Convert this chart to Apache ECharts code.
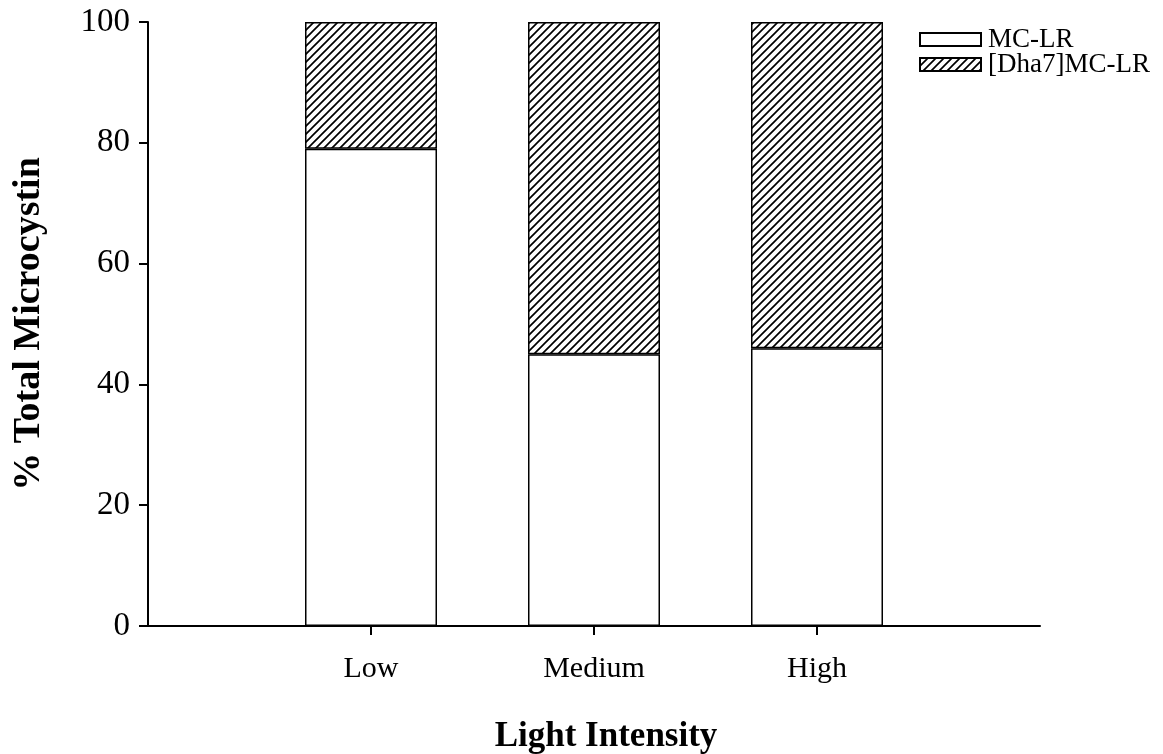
<!DOCTYPE html>
<html>
<head>
<meta charset="utf-8">
<script src="https://cdn.jsdelivr.net/npm/echarts@6/dist/echarts.min.js"></script>
<style>html,body{margin:0;padding:0;background:#fff}#c{width:1163px;height:754px}</style>
</head>
<body>
<div id="c"></div>
<script>
var categories = ['Low', 'Medium', 'High'];
var mcLR = [79, 45, 46];
var dha7 = [21, 55, 54];
var yTicks = [0, 20, 40, 60, 80, 100];
var seriesNames = ['MC-LR', '[Dha7]MC-LR'];

function hatch() {
  var s = 8;
  var c = document.createElement('canvas');
  c.width = s; c.height = s;
  var g = c.getContext('2d');
  g.fillStyle = '#fff'; g.fillRect(0, 0, s, s);
  g.strokeStyle = '#000'; g.lineWidth = 1.7;
  g.beginPath();
  g.moveTo(-1, s + 1); g.lineTo(s + 1, -1);
  g.moveTo(-1, 1); g.lineTo(1, -1);
  g.moveTo(s - 1, s + 1); g.lineTo(s + 1, s - 1);
  g.stroke();
  return c;
}

var xData = [''].concat(categories).concat(['']);
var pad = function (arr) { return ['-'].concat(arr).concat(['-']); };

var chart = echarts.init(document.getElementById('c'));
var font = '"Liberation Serif", "Times New Roman", serif';
function legendAt(top, name) {
  return {
    left: 914, top: top, orient: 'vertical', itemWidth: 61, itemHeight: 13,
    icon: 'rect', selectedMode: false,
    textStyle: { fontFamily: font, fontSize: 27, color: '#000', padding: [0, 0, 0, 2] },
    data: [name]
  };
}
chart.setOption({
  animation: false,
  backgroundColor: '#fff',
  grid: { left: 148, right: 123, top: 22, bottom: 128, outerBoundsMode: 'none', containLabel: false },
  legend: [legendAt(21, seriesNames[0]), legendAt(46, seriesNames[1])],
  xAxis: {
    type: 'category', data: xData, boundaryGap: false,
    name: 'Light Intensity', nameLocation: 'middle', nameGap: 93,
    nameTextStyle: { fontFamily: font, fontSize: 35, fontWeight: 'bold', color: '#000', padding: [0, 0, 0, 24] },
    axisLine: { lineStyle: { color: '#000', width: 2 } },
    axisTick: { length: 9, lineStyle: { color: '#000', width: 2 }, interval: function (i) { return i >= 1 && i <= 3; } },
    axisLabel: { fontFamily: font, fontSize: 30, color: '#000', margin: 28, interval: 0 }
  },
  yAxis: {
    type: 'value', min: 0, max: 100, interval: 20,
    name: '% Total Microcystin', nameLocation: 'middle', nameGap: 100, nameRotate: 90,
    nameTextStyle: { fontFamily: font, fontSize: 38, fontWeight: 'bold', color: '#000' },
    axisLine: { show: true, lineStyle: { color: '#000', width: 2 } },
    axisTick: { show: true, length: 9, lineStyle: { color: '#000', width: 2 } },
    splitLine: { show: false },
    axisLabel: { fontFamily: font, fontSize: 33, color: '#000', margin: 18,
      formatter: function (v) { return yTicks.indexOf(v) >= 0 ? String(v) : ''; } }
  },
  series: [
    { name: seriesNames[0], type: 'bar', stack: 's', barWidth: 132, data: pad(mcLR),
      itemStyle: { color: '#fff', borderColor: '#000', borderWidth: 1.5 } },
    { name: seriesNames[1], type: 'bar', stack: 's', barWidth: 132, data: pad(dha7),
      itemStyle: { color: { image: hatch(), repeat: 'repeat' }, borderColor: '#000', borderWidth: 1.5 } }
  ]
});
</script>
</body>
</html>
